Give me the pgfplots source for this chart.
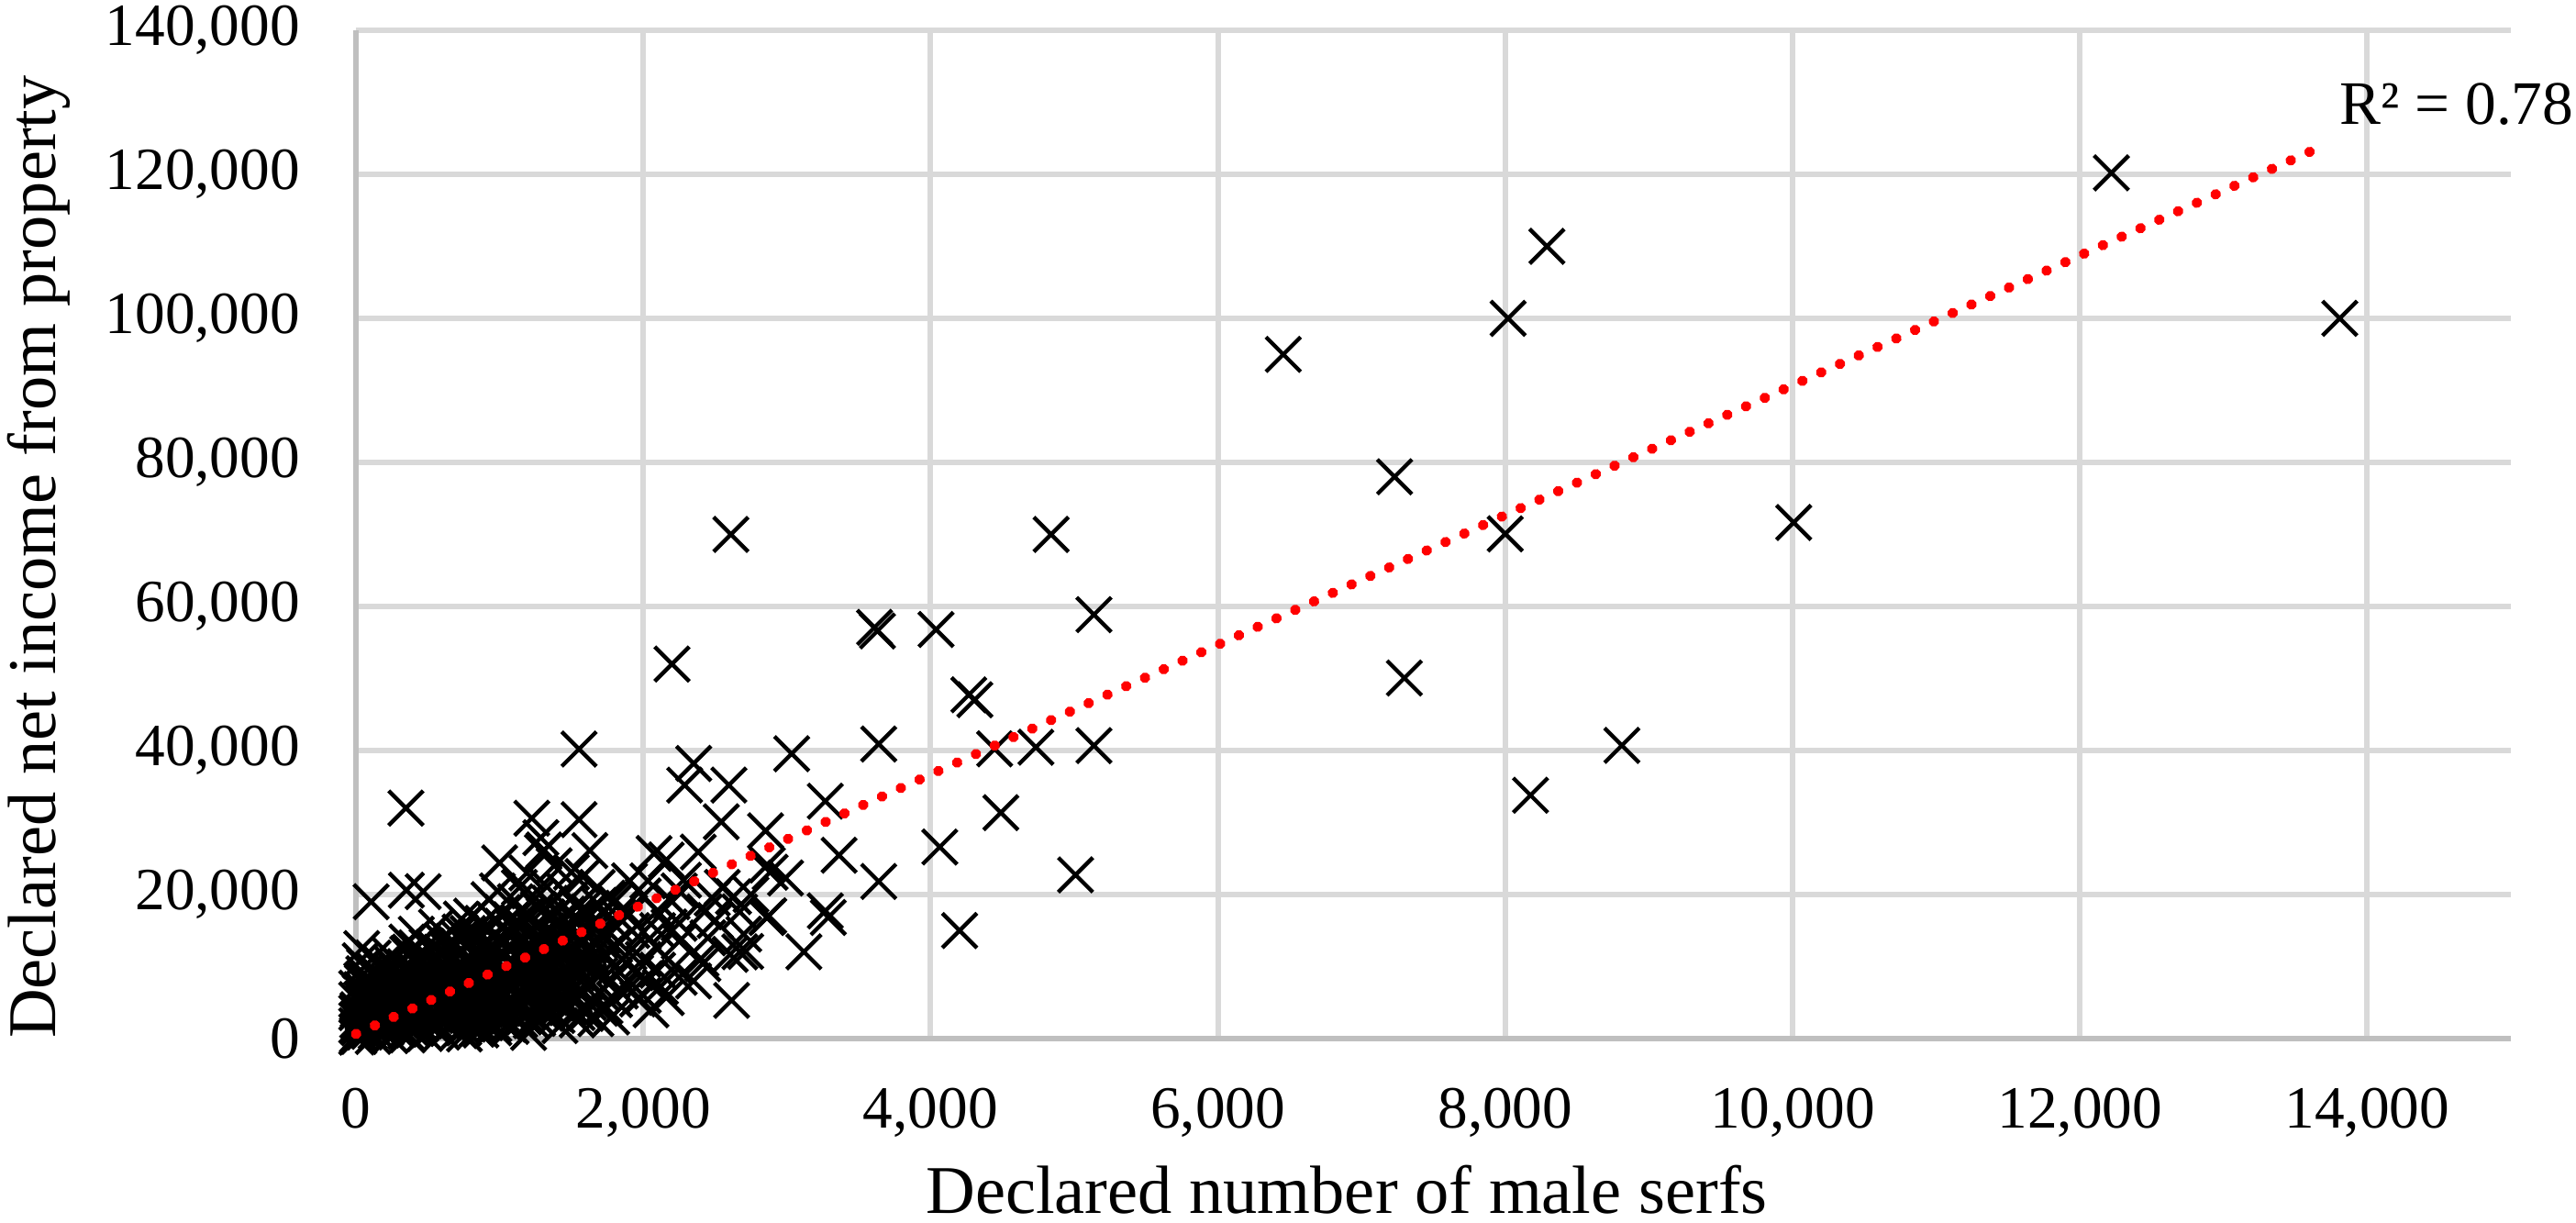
\documentclass[border=0pt]{standalone}
\usepackage{fontspec}
\setmainfont{Liberation Serif}
\usepackage{pgfplots}
\usepackage{pgfplotstable}
\pgfplotsset{compat=1.18}
\definecolor{gridc}{RGB}{217,217,217}
\definecolor{axc}{RGB}{191,191,191}

\pgfplotstableread{
x y
10 500
20 1500
30 2800
15 4000
40 5500
25 800
50 3500
60 6500
35 2000
45 7800
70 1200
80 4500
90 3000
55 9000
30 10800
40 12500
65 5200
85 2200
95 6000
20 300
75 7200
100 3800
12 2500
48 4800
88 8200
58 1800
68 3300
78 5800
38 6800
92 1000
110 2000
120 4500
130 7000
140 1000
150 3200
160 5600
170 8500
180 2600
190 6200
200 9200
210 1500
220 4000
230 7500
240 3000
250 5000
260 9800
270 2200
280 6800
290 4200
300 8000
115 5800
135 3800
155 6500
175 1800
195 4800
215 7000
235 5500
255 2800
275 8600
295 3500
125 9500
145 2500
165 4000
185 7800
205 3300
225 6000
245 10500
265 4500
285 1200
106 19000
310 2500
320 5000
330 7500
340 10000
350 3500
360 6200
370 8800
380 1500
390 4500
400 7000
410 9500
420 3000
430 5500
440 11000
450 2000
460 6500
470 8200
480 4000
490 10300
500 5800
510 3200
520 7600
530 9000
540 1800
550 6000
560 11500
570 4300
580 8000
590 2800
600 7000
610 10000
620 5200
630 12500
640 3600
650 8500
660 6300
670 11000
680 2400
690 7800
700 9600
315 9000
345 1000
375 12000
405 2600
435 7900
465 4900
495 12800
525 5400
555 2300
585 9800
615 3900
645 6800
675 13500
695 4700
348 32000
351 20600
468 20400
355 13400
420 14500
560 15500
710 3000
720 6000
730 9000
740 12000
750 1500
760 4500
770 7500
780 10500
790 13500
800 5500
810 8500
820 2500
830 11500
840 6500
850 14500
860 4000
870 9500
880 12500
890 7000
900 3000
910 10000
920 15000
930 5500
940 8000
950 13000
960 2000
970 11000
980 6000
990 9000
1000 14000
734 16600
755 640
841 2340
883 16000
926 19300
1000 24400
725 14800
805 17000
965 16500
985 20500
870 1200
945 4300
775 3200
855 11000
995 7200
1010 3500
1030 6500
1050 9500
1070 12500
1090 15500
1100 4500
1120 8000
1140 11000
1160 14000
1180 17000
1200 5500
1210 9000
1220 2500
1230 12000
1240 15000
1250 7000
1260 10500
1270 18000
1280 4000
1290 13500
1300 8500
1020 17500
1060 2000
1110 19000
1138 21000
1202 850
1224 30600
1287 27900
1309 26200
1298 25900
1309 21500
1190 23000
1150 6000
1080 10800
1040 14800
1170 3000
1250 19500
1130 16200
1265 2800
1190 12800
1320 3500
1340 7000
1351 5700
1360 10500
1380 14000
1400 17500
1420 4500
1440 8500
1460 12000
1479 16000
1500 19500
1500 23100
1520 6000
1540 10000
1553 30400
1553 40200
1560 13500
1580 18000
1600 3500
1607 4000
1620 8000
1628 14250
1628 26100
1640 11500
1660 16500
1692 18500
1700 6500
1680 21000
1450 20500
1350 18800
1420 1800
1540 2600
1580 22500
1380 24000
1660 9800
1713 14200
1734 4500
1734 11700
1750 19500
1780 8000
1800 13000
1820 17000
1840 6600
1862 18100
1880 10500
1905 21900
1920 15000
1947 9150
1960 5500
2011 8300
2032 21900
2054 4000
2075 25700
2096 17700
2100 12500
2120 7200
2160 5700
2160 24800
2180 15500
2200 19000
2220 10000
2250 13500
2280 22000
2288 35200
2351 38200
2200 52000
1670 2760
1521 5300
1780 3000
2383 25900
2402 11100
2415 10400
2426 17600
2500 16400
2543 30100
2596 35200
2605 11700
2610 70000
2615 5300
2628 19700
2671 17600
2672 12050
2713 12100
2851 28850
2860 16800
2863 24100
2874 17050
2883 23100
2990 22300
3033 39550
3118 12050
2450 14000
2350 8000
2550 21000
2480 19500
2700 14500
2750 20000
3267 32960
3267 17730
3288 16820
3363 25460
3610 57100
3630 56600
3639 40900
3639 21820
4038 56800
4064 26600
4202 15000
4266 47730
4308 47050
4446 40230
4489 31370
4733 40450
4839 70000
5009 22730
5137 58860
5137 40680
6455 95000
7230 78000
8000 70080
7298 50060
8176 33790
8812 40710
10008 71660
12219 120200
13809 100000
8290 110000
8020 100000
5 200
5 1800
5 3600
5 5400
5 7000
60 900
60 2700
60 4500
60 6300
60 8100
60 10000
120 300
120 2100
120 3900
120 5700
120 7500
120 9300
120 11200
180 1200
180 3000
180 4800
180 6600
180 8400
180 10200
240 400
240 2200
240 4000
240 5800
240 7600
240 9400
240 11500
300 1300
300 3100
300 4900
300 6700
300 8500
300 10300
360 500
360 2300
360 4100
360 5900
360 7700
360 9500
360 11800
420 1400
420 3200
420 5000
420 6800
420 8600
420 10400
420 12600
480 700
480 2500
480 4300
480 6100
480 7900
480 9700
480 11500
540 1600
540 3400
540 5200
540 7000
540 8800
540 10600
540 12700
600 900
600 2700
600 4500
600 6300
600 8100
600 9900
600 11900
600 13600
660 1800
660 3600
660 5400
660 7200
660 9000
660 10800
660 12800
720 1100
720 2900
720 4700
720 6500
720 8300
720 10100
720 12000
720 13800
780 2000
780 3800
780 5600
780 7400
780 9200
780 11000
780 12900
780 14600
840 1300
840 3100
840 4900
840 6700
840 8500
840 10300
840 12200
840 14000
900 2200
900 4000
900 5800
900 7600
900 9400
900 11200
900 13100
900 15200
960 1500
960 3300
960 5100
960 6900
960 8700
960 10500
960 12400
960 14300
1020 2400
1020 4200
1020 6000
1020 7800
1020 9600
1020 11400
1020 13300
1020 15600
1080 1700
1080 3500
1080 5300
1080 7100
1080 8900
1080 10700
1080 12600
1080 14500
1080 16500
1140 2600
1140 4400
1140 6200
1140 8000
1140 9800
1140 11600
1140 13500
1140 15400
1200 3700
1200 5500
1200 7300
1200 9100
1200 10900
1200 12800
1200 14700
1200 16800
1260 2900
1260 4600
1260 6400
1260 8200
1260 10000
1260 11800
1260 13700
1260 15600
1330 4000
1330 5800
1330 7600
1330 9400
1330 11200
1330 13000
1330 14900
1330 16900
1400 3200
1400 5000
1400 6900
1400 8700
1400 10500
1400 12300
1400 14200
1400 16100
1470 4300
1470 6200
1470 8000
1470 9800
1470 11600
1470 13400
1470 15300
1470 17300
1540 3600
1540 5400
1540 7300
1540 9100
1540 10900
1540 12700
1540 14600
1540 16600
1540 18300
1620 5000
1620 7800
1620 10000
1620 12800
1620 15200
1620 17600
1700 4200
1700 8800
1700 13600
1700 16000
1800 5400
1800 9900
1800 15800
1800 19000
1900 7000
1900 12000
1900 17200
2000 6000
2000 11000
2000 14800
2000 19800
2100 9500
2100 15000
2250 8500
2250 16000
2250 20500
}\serfs

\begin{document}
\begin{tikzpicture}
\begin{axis}[
  scale only axis,
  width=334.6pt, height=156.55pt,
  xmin=0, xmax=15000, ymin=0, ymax=140000,
  enlargelimits=false,
  clip=false,
  clip marker paths=true,
  axis lines*=left,
  axis line style={draw=axc, line width=0.85pt},
  xtick={0,2000,...,14000},
  ytick={0,20000,...,140000},
  scaled ticks=false,
  major tick length=0pt,
  tick style={draw=none},
  grid=major,
  major grid style={draw=gridc, line width=0.85pt},
  ticklabel style={font=\fontsize{9.3}{11}\selectfont, inner sep=0pt,
    /pgf/number format/fixed, /pgf/number format/precision=0,
    /pgf/number format/1000 sep={,}, /pgf/number format/assume math mode=true},
  xticklabel style={anchor=north, yshift=-7.55pt},
  yticklabel style={anchor=east, xshift=-8.5pt},
  xlabel={Declared number of male serfs},
  ylabel={Declared net income from property},
  label style={font=\fontsize{10.6}{12}\selectfont, inner sep=0pt},
  xlabel style={at={(axis description cs:0.4598,0)}, anchor=base, yshift=-27.2pt},
  ylabel style={at={(axis description cs:-0.1396,0.4777)}, anchor=base},
]
\addplot[only marks, mark=x, mark size=3.8pt, mark options={line width=0.62pt, draw=black}] table[x=x,y=y] {\serfs};
\addplot[red, line width=1.6pt, line cap=round, dash pattern=on 0.05pt off 3.15pt] coordinates {(0,640) (13666,123720)};
\node[anchor=base west, inner sep=0pt, font=\fontsize{9.6}{12}\selectfont] at (axis cs:13800,126880) {R² = 0.78};
\end{axis}
\pgfresetboundingbox
\path ([shift={(-55.27pt,-28.49pt)}]current axis.south west) rectangle ([shift={(10.11pt,4.70pt)}]current axis.north east);
\end{tikzpicture}
\end{document}
